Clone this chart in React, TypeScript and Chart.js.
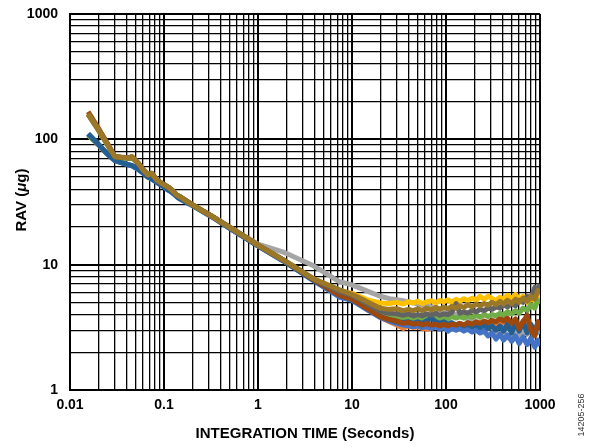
import React, { useEffect, useRef } from 'react';
import { Chart, registerables } from 'chart.js';

Chart.register(...registerables);

// integration time (seconds)
const tau = [0.0156, 0.02, 0.025, 0.03, 0.036, 0.0435, 0.0454, 0.0529, 0.06, 0.0676, 0.074, 0.0836, 0.0945, 0.111, 0.121, 0.1365, 0.148, 0.2, 0.33, 0.5, 1, 1.86, 3.9, 7.4,
  10, 15, 20, 25, 30, 35, 40, 45, 50, 56, 62, 70, 78, 86, 95, 105, 115, 128, 140, 155, 170, 190, 210, 230, 255, 280, 310, 340, 375, 410, 450, 500, 550, 600, 660, 730, 800, 880, 950, 1000];

const s1 = [111, 91.6, 76.6, 68, 65, 62.4, 62, 58, 54, 50, 48.5, 45.5, 43, 39.5, 38, 35, 33.5, 29.8, 23.9, 19.6, 14.15, 10.75, 7.5, 5.6,
  5.25, 4.35, 3.8, 3.6, 3.45, 3.35, 3.4, 3.3, 3.35, 3.25, 3.3, 3.25, 3.3, 3.2, 3.3, 3.2, 3.3, 3.2, 3.3, 3.2, 3.3, 3.15, 3.25, 3.1, 3.25, 3.1, 3.2, 3.05, 3.2, 3.0, 3.15, 2.95, 3.1, 2.9, 3.1, 2.8, 3.0, 2.75, 3.0, 2.8];
const s2 = [108, 91, 77, 71, 70.5, 70.5, 72, 64.5, 57, 52, 53, 47.3, 44.5, 41.3, 39.3, 35.8, 34.7, 30, 24, 19.7, 14.2, 10.8, 7.6, 5.6,
  5.3, 4.35, 3.8, 3.5, 3.3, 3.1, 3.25, 3.15, 3.2, 3.1, 3.05, 3.1, 3.2, 3.1, 3.2, 3.15, 3.25, 3.2, 3.3, 3.2, 3.3, 3.25, 3.35, 3.3, 3.4, 3.3, 3.45, 3.35, 3.5, 3.4, 3.5, 3.3, 3.5, 3.2, 3.4, 3.3, 3.2, 3.1, 3.3, 3.2];
const s3 = [158, 119, 91, 72.6, 71.5, 70.9, 72.4, 64.7, 57, 51.9, 53.3, 47.3, 44.6, 41.4, 39.4, 35.9, 34.8, 30.1, 24.2, 19.9, 14.6, 12.6, 9.8, 7.3,
  6.9, 6.1, 5.6, 5.35, 5.25, 5.15, 5.05, 4.95, 4.85, 4.75, 4.7, 4.6, 4.5, 4.4, 4.3, 4.2, 4.1, 4.0, 3.9, 3.85, 3.7, 3.6, 3.5, 3.4, 3.3, 3.2, 3.1, 3.0, 2.7, 2.9, 2.6, 2.75, 2.9, 2.7, 2.9, 2.8, 3.0, 2.9, 3.1, 3.0];
const s4 = [158, 119, 91, 72.6, 71.5, 70.9, 72.4, 64.7, 57, 51.9, 53.3, 47.3, 44.6, 41.4, 39.4, 35.9, 34.8, 30, 24.1, 19.8, 14.3, 10.9, 7.7, 6.2,
  5.9, 5.2, 4.95, 4.9, 5.0, 4.85, 5.05, 4.95, 5.1, 4.9, 5.05, 5.15, 4.95, 5.2, 5.05, 5.25, 5.0, 5.3, 5.1, 5.35, 5.15, 5.4, 5.2, 5.6, 5.3, 5.6, 5.35, 5.2, 5.5, 5.3, 5.7, 5.35, 5.8, 5.2, 5.6, 5.0, 5.5, 5.1, 5.7, 5.3];
const s5 = [110, 91, 76, 67.5, 64.5, 62, 61.5, 57.5, 53.5, 49.8, 48.3, 45.3, 42.8, 39.3, 37.8, 34.9, 33.4, 29.7, 23.8, 19.5, 14.1, 10.7, 7.45, 5.5,
  5.2, 4.3, 3.8, 3.55, 3.4, 3.3, 3.25, 3.2, 3.25, 3.15, 3.2, 3.1, 3.2, 3.05, 3.15, 2.95, 3.1, 3.0, 3.1, 2.95, 3.05, 2.9, 3.0, 2.85, 2.95, 2.7, 2.85, 2.55, 2.8, 2.5, 2.75, 2.45, 2.7, 2.35, 2.65, 2.3, 2.6, 2.2, 2.5, 2.25];
const s6 = [108, 91, 77, 71, 70.5, 70.5, 72, 64.5, 57, 52, 53, 47.3, 44.5, 41.3, 39.3, 35.8, 34.7, 30, 24, 19.7, 14.2, 10.8, 7.6, 5.9,
  5.4, 4.6, 4.0, 3.85, 3.8, 3.7, 3.75, 3.65, 3.75, 3.65, 3.75, 3.7, 3.8, 3.7, 3.8, 3.7, 3.85, 3.75, 3.85, 3.75, 3.9, 3.8, 3.95, 3.8, 4.0, 3.85, 4.0, 3.9, 4.1, 3.95, 4.2, 4.05, 4.3, 4.1, 4.5, 4.3, 4.8, 4.5, 5.2, 4.9];
const s7 = [111, 91.5, 76.5, 68, 65, 62.3, 62, 58, 54, 50, 48.5, 45.5, 43, 39.5, 38, 35, 33.5, 29.8, 23.9, 19.6, 14.15, 10.75, 7.5, 5.7,
  5.3, 4.4, 3.85, 3.65, 3.5, 3.45, 3.5, 3.4, 3.5, 3.4, 3.55, 3.75, 3.5, 3.4, 3.5, 3.35, 3.45, 3.3, 3.4, 3.25, 3.35, 3.2, 3.3, 3.15, 3.3, 3.1, 3.25, 3.0, 3.25, 2.95, 3.35, 2.85, 3.45, 2.95, 3.55, 2.85, 3.35, 2.8, 3.5, 3.0];
const s8 = [166, 123, 93, 73, 71.8, 71.2, 72.8, 65, 57.3, 52.2, 53.7, 47.5, 44.8, 41.6, 39.6, 36, 34.9, 30.1, 24.2, 19.9, 14.3, 10.9, 7.6, 5.7,
  5.3, 4.4, 3.85, 3.65, 3.55, 3.4, 3.45, 3.35, 3.4, 3.3, 3.4, 3.3, 3.35, 3.25, 3.35, 3.25, 3.35, 3.3, 3.4, 3.3, 3.45, 3.35, 3.5, 3.4, 3.55, 3.45, 3.6, 3.5, 3.7, 3.55, 3.75, 3.4, 3.7, 3.1, 3.5, 3.95, 3.0, 2.7, 3.5, 3.1];
const s9 = [158, 119, 91, 72.6, 71.5, 70.9, 72.5, 64.7, 57, 51.9, 53.4, 47.3, 44.6, 41.4, 39.4, 35.9, 34.8, 30, 24.1, 19.8, 14.3, 10.9, 7.7, 6.1,
  5.7, 4.8, 4.25, 4.1, 4.05, 3.95, 4.05, 3.9, 4.0, 3.9, 4.05, 3.95, 4.1, 3.95, 4.05, 4.0, 4.15, 4.9, 4.1, 4.2, 4.1, 4.3, 4.2, 4.4, 4.3, 4.5, 4.4, 4.6, 4.5, 4.8, 4.6, 4.9, 4.7, 5.2, 5.0, 5.6, 5.4, 6.6, 6.2, 7.0];
const s10 = [160, 120, 91, 72.6, 71.5, 70.9, 72.6, 64.7, 57, 51.9, 53.5, 47.3, 44.6, 41.4, 39.4, 35.9, 34.8, 30, 24.1, 19.8, 14.3, 10.9, 7.7, 6.3,
  5.8, 5.0, 4.5, 4.4, 4.45, 4.3, 4.4, 4.3, 4.45, 4.3, 4.5, 4.35, 4.55, 4.4, 4.6, 4.45, 4.65, 4.5, 4.7, 4.55, 4.8, 4.6, 4.85, 4.7, 4.9, 4.75, 5.0, 4.8, 5.1, 4.85, 5.2, 4.9, 5.3, 5.0, 5.4, 5.1, 5.6, 5.3, 6.2, 5.8];

const seriesValues = [s1, s2, s3, s4, s5, s6, s7, s8, s9, s10];
const seriesColors = ['#5B9BD5', '#ED7D31', '#A5A5A5', '#FFC000', '#4472C4', '#70AD47', '#255E91', '#9E480E', '#636363', '#9B7828'];

const xTickValues = [0.01, 0.1, 1, 10, 100, 1000];
const xTickLabels = ['0.01', '0.1', '1', '10', '100', '1000'];
const yTickValues = [1, 10, 100, 1000];
const yTickLabels = ['1', '10', '100', '1000'];
const gridMultipliers = [1, 2, 3, 4, 5, 6, 7, 8, 9];

const xTitle = 'INTEGRATION TIME (Seconds)';
const yTitleParts = ['RAV (', 'μ', 'g)'];
const figureId = '14205-256';

const FONT = '"Liberation Sans", Arial, Helvetica, sans-serif';

function gridValues(decades: number[]) {
  const out: number[] = [];
  for (let i = 0; i < decades.length - 1; i++) {
    for (const m of gridMultipliers) out.push(decades[i] * m);
  }
  out.push(decades[decades.length - 1]);
  return out;
}

function isDecade(v: number, list: number[]) {
  return list.some((t) => Math.abs(Math.log10(v) - Math.log10(t)) < 1e-6);
}

function labelFor(v: number, values: number[], labels: string[]) {
  const i = values.findIndex((t) => Math.abs(Math.log10(v) - Math.log10(t)) < 1e-6);
  return i >= 0 ? labels[i] : '';
}

export default function App() {
  const ref = useRef<HTMLCanvasElement | null>(null);

  useEffect(() => {
    if (!ref.current) return;
    const xGrid = gridValues(xTickValues);
    const yGrid = gridValues(yTickValues);

    const textPlugin = {
      id: 'customText',
      afterDraw(chart: any) {
        const ctx = chart.ctx;
        const area = chart.chartArea;
        ctx.save();
        ctx.fillStyle = '#000';
        ctx.font = `bold 15px ${FONT}`;
        ctx.textAlign = 'center';
        ctx.textBaseline = 'middle';
        ctx.fillText(xTitle, (area.left + area.right) / 2, 434);
        ctx.save();
        ctx.translate(22, 200);
        ctx.rotate(-Math.PI / 2);
        const fonts = [`bold 15px ${FONT}`, `italic bold 15px ${FONT}`, `bold 15px ${FONT}`];
        let total = 0;
        const widths = yTitleParts.map((p, i) => {
          ctx.font = fonts[i];
          const w = ctx.measureText(p).width;
          total += w;
          return w;
        });
        let x = -total / 2;
        ctx.textAlign = 'left';
        yTitleParts.forEach((p, i) => {
          ctx.font = fonts[i];
          ctx.fillText(p, x, 0);
          x += widths[i];
        });
        ctx.restore();
        ctx.save();
        ctx.translate(582, 415);
        ctx.rotate(-Math.PI / 2);
        ctx.font = `9px ${FONT}`;
        ctx.fillStyle = '#333';
        ctx.textAlign = 'center';
        ctx.textBaseline = 'middle';
        ctx.fillText(figureId, 0, 0);
        ctx.restore();
        ctx.restore();
      },
    };

    const n = seriesValues.length;
    const chart = new Chart(ref.current, {
      type: 'line',
      data: {
        datasets: seriesValues.map((vals, i) => ({
          data: tau.map((t, j) => ({ x: t, y: vals[j] })),
          borderColor: seriesColors[i],
          backgroundColor: seriesColors[i],
          borderWidth: 5,
          pointRadius: 0,
          tension: 0,
          fill: false,
          order: n - i,
          borderJoinStyle: 'round' as const,
        })),
      },
      options: {
        responsive: false,
        animation: false,
        layout: { padding: { left: 0, top: 14, right: 60, bottom: 0 } },
        plugins: { legend: { display: false }, tooltip: { enabled: false }, title: { display: false } },
        scales: {
          x: {
            type: 'logarithmic',
            min: 0.01,
            max: 1000,
            afterBuildTicks: (scale: any) => {
              scale.ticks = xGrid.map((v) => ({ value: v, major: false }));
            },
            afterFit: (scale: any) => {
              scale.height = 57;
              scale.paddingLeft = 0;
              scale.paddingRight = 0;
              scale.paddingTop = 0;
              scale.paddingBottom = 0;
            },
            grid: {
              color: '#000',
              lineWidth: (c: any) => (c.tick && isDecade(c.tick.value, xTickValues) ? 2 : 1.3),
              drawTicks: false,
            },
            border: { display: true, color: '#000', width: 2 },
            ticks: {
              autoSkip: false,
              maxRotation: 0,
              minRotation: 0,
              padding: 7,
              color: '#000',
              font: { family: FONT, size: 14, weight: 'bold' },
              callback: (v: any) => labelFor(Number(v), xTickValues, xTickLabels),
            },
          },
          y: {
            type: 'logarithmic',
            min: 1,
            max: 1000,
            afterBuildTicks: (scale: any) => {
              scale.ticks = yGrid.map((v) => ({ value: v, major: false }));
            },
            afterFit: (scale: any) => {
              scale.width = 70;
              scale.paddingLeft = 0;
              scale.paddingRight = 0;
              scale.paddingTop = 0;
              scale.paddingBottom = 0;
            },
            grid: {
              color: '#000',
              lineWidth: (c: any) => (c.tick && isDecade(c.tick.value, yTickValues) ? 2 : 1.3),
              drawTicks: false,
            },
            border: { display: true, color: '#000', width: 2 },
            ticks: {
              autoSkip: false,
              padding: 12,
              color: '#000',
              font: { family: FONT, size: 14, weight: 'bold' },
              callback: (v: any) => labelFor(Number(v), yTickValues, yTickLabels),
            },
          },
        },
      },
      plugins: [textPlugin],
    } as any);
    return () => chart.destroy();
  }, []);

  return (
    <div style={{ position: 'absolute', left: 0, top: 0, width: 600, height: 447, background: '#fff' }}>
      <canvas ref={ref} width={600} height={447} style={{ display: 'block' }} />
    </div>
  );
}
